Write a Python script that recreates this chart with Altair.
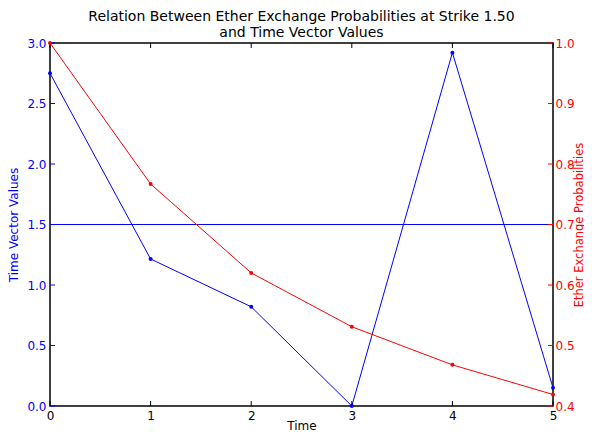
import altair as alt
import pandas as pd

time = [0, 1, 2, 3, 4, 5]
time_vector_values = [2.75, 1.215, 0.82, 0.0, 2.92, 0.15]
ether_probabilities = [1.0, 0.767, 0.62, 0.531, 0.468, 0.419]
strike = [1.5]
x_ticks = [0, 1, 2, 3, 4, 5]
left_ticks = [0.0, 0.5, 1.0, 1.5, 2.0, 2.5, 3.0]
right_ticks = [0.4, 0.5, 0.6, 0.7, 0.8, 0.9, 1.0]

W, H = 503, 363
FONT = "DejaVu Sans"
BLUE = "#0000ff"
RED = "#ff0000"

df = pd.DataFrame({"Time": time, "tv": time_vector_values, "p": ether_probabilities})
df_strike = pd.DataFrame({"s": strike})
df_xt = pd.DataFrame({"xt": x_ticks})
df_lt = pd.DataFrame({"lt": left_ticks})
df_rt = pd.DataFrame({"rt": right_ticks})

xs = alt.Scale(domain=[0, 5], nice=False, zero=False)
ys1 = alt.Scale(domain=[0, 3], nice=False, zero=False)
ys2 = alt.Scale(domain=[0.4, 1.0], nice=False, zero=False)

x_axis = alt.Axis(values=x_ticks, format="d", ticks=False, domain=False, grid=False,
                  labelPadding=4, labelFlush=False, title="Time",
                  titleX=W / 2, titleY=23, titleAlign="center", titleBaseline="alphabetic",
                  labelColor="black", titleColor="black")

left_axis = alt.Axis(values=left_ticks, format=".1f", ticks=False, domain=False, grid=False,
                     labelPadding=4, labelFlush=False, labelColor=BLUE, titleColor=BLUE,
                     title="Time Vector Values", orient="left",
                     titleX=-33, titleY=H / 2, titleAngle=270, titleAlign="center",
                     titleBaseline="alphabetic")
right_axis = alt.Axis(values=right_ticks, format=".1f", ticks=False, domain=False, grid=False,
                      labelPadding=2, labelFlush=False, labelColor=RED, titleColor=RED,
                      title="Ether Exchange Probabilities", orient="right",
                      titleX=29, titleY=H / 2, titleAngle=270, titleAlign="center",
                      titleBaseline="alphabetic", titleFontSize=11.5)

X = lambda f: alt.X(f, scale=xs, axis=x_axis)
Y1 = lambda f: alt.Y(f, scale=ys1, axis=left_axis)
Y2 = lambda f: alt.Y(f, scale=ys2, axis=right_axis)

blue_line = alt.Chart(df).mark_line(color=BLUE, strokeWidth=1).encode(
    x=X("Time:Q"), y=Y1("tv:Q"),
)
blue_pts = alt.Chart(df).mark_circle(color=BLUE, size=16, opacity=1).encode(
    x=X("Time:Q"), y=Y1("tv:Q"),
)
strike_rule = alt.Chart(df_strike).mark_rule(color=BLUE, strokeWidth=1).encode(
    y=Y1("s:Q"),
)
left_tk = alt.Chart(df_lt).mark_rule(color=BLUE, strokeWidth=1).encode(
    y=Y1("lt:Q"), x=alt.value(0), x2=alt.value(5),
)
bottom_tk = alt.Chart(df_xt).mark_rule(color="black", strokeWidth=1).encode(
    x=X("xt:Q"), y=alt.value(H), y2=alt.value(H - 5),
)
top_tk = alt.Chart(df_xt).mark_rule(color="black", strokeWidth=1).encode(
    x=X("xt:Q"), y=alt.value(0), y2=alt.value(5),
)
blue_layer = alt.layer(strike_rule, blue_line, blue_pts, left_tk, bottom_tk, top_tk)

red_line = alt.Chart(df).mark_line(color=RED, strokeWidth=1).encode(
    x=X("Time:Q"), y=Y2("p:Q"),
)
red_pts = alt.Chart(df).mark_circle(color=RED, size=16, opacity=1).encode(
    x=X("Time:Q"), y=Y2("p:Q"),
)
right_tk = alt.Chart(df_rt).mark_rule(color=RED, strokeWidth=1).encode(
    y=Y2("rt:Q"), x=alt.value(W), x2=alt.value(W - 5),
)
red_layer = alt.layer(red_line, red_pts, right_tk)

chart = alt.layer(blue_layer, red_layer).resolve_scale(y="independent").properties(
    width=W, height=H,
    title=alt.TitleParams(
        ["Relation Between Ether Exchange Probabilities at Strike 1.50", "and Time Vector Values"],
        fontSize=14, font=FONT, fontWeight="normal", anchor="middle", color="black",
        offset=0, lineHeight=16, dy=3,
    ),
    autosize=alt.AutoSizeParams(type="none"),
    padding={"left": 42, "top": 35, "right": 31, "bottom": 27},
).configure(background="white").configure_view(
    stroke="black", strokeWidth=1.5
).configure_axis(
    labelFont=FONT, titleFont=FONT, labelFontSize=12, titleFontSize=12, titleFontWeight="normal",
)

chart.save("out.html", embed_options={"renderer": "svg", "actions": False})
